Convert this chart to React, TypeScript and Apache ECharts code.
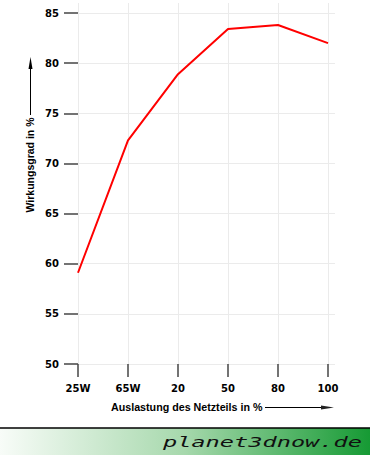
import React, { useEffect, useRef } from "react";
import * as echarts from "echarts";

const categories = ["25W", "65W", "20", "50", "80", "100"];
const efficiency = [59.1, 72.3, 78.9, 83.4, 83.8, 82.0];
const yTitle = "Wirkungsgrad in %";
const xTitle = "Auslastung des Netzteils in %";
const brand = "planet3dnow.de";

export default function App() {
  const ref = useRef<HTMLDivElement>(null);
  useEffect(() => {
    if (!ref.current) return;
    const chart = echarts.init(ref.current, null, { renderer: "svg" });
    const tickColor = "#444";
    const gridColor = "#ebebeb";
    const labelFont = {
      color: "#000",
      fontFamily: "DejaVu Sans",
      fontWeight: "bold" as const,
      fontSize: 10,
    };
    chart.setOption({
      animation: false,
      backgroundColor: "#fff",
      grid: [
        { left: 78, right: 42, top: 13, bottom: 91 },
        { left: 78, right: 35, top: 13, bottom: 91 },
        { left: 78, right: 42, top: 3, bottom: 91 },
      ],
      xAxis: [
        {
          gridIndex: 0,
          type: "category",
          data: categories,
          boundaryGap: false,
          axisLine: { show: false },
          axisTick: { show: true, length: 13, lineStyle: { color: tickColor, width: 1.5 } },
          axisLabel: { ...labelFont, margin: 19 },
          splitLine: { show: false },
        },
        {
          gridIndex: 1,
          type: "value",
          min: 0,
          max: 1,
          axisLine: { show: false },
          axisTick: { show: false },
          axisLabel: { show: false },
          splitLine: { show: false },
        },
        {
          gridIndex: 2,
          type: "category",
          data: categories,
          boundaryGap: false,
          axisLine: { show: false },
          axisTick: { show: false },
          axisLabel: { show: false },
          splitLine: { show: true, lineStyle: { color: gridColor, width: 1 } },
        },
      ],
      yAxis: [
        {
          gridIndex: 0,
          type: "value",
          min: 50,
          max: 85,
          interval: 5,
          axisLine: { show: false },
          axisTick: { show: true, length: 14, lineStyle: { color: tickColor, width: 1.5 } },
          axisLabel: { ...labelFont, margin: 19 },
          splitLine: { show: false },
        },
        {
          gridIndex: 1,
          type: "value",
          min: 50,
          max: 85,
          interval: 5,
          axisLine: { show: false },
          axisTick: { show: false },
          axisLabel: { show: false },
          splitLine: { show: true, lineStyle: { color: gridColor, width: 1 } },
        },
        {
          gridIndex: 2,
          type: "value",
          min: 0,
          max: 1,
          axisLine: { show: false },
          axisTick: { show: false },
          axisLabel: { show: false },
          splitLine: { show: false },
        },
      ],
      series: [
        {
          type: "line",
          xAxisIndex: 0,
          yAxisIndex: 0,
          data: efficiency,
          symbol: "none",
          z: 10,
          lineStyle: { color: "#ff0000", width: 2 },
        },
      ],
      graphic: [
        {
          type: "text",
          x: 30,
          y: 165,
          rotation: Math.PI / 2,
          style: {
            text: yTitle,
            fill: "#000",
            font: "bold 10.5px 'Liberation Sans'",
            align: "center",
            verticalAlign: "middle",
          },
        },
        {
          type: "line",
          shape: { x1: 30.5, y1: 115, x2: 30.5, y2: 66 },
          style: { stroke: "#000", lineWidth: 1 },
        },
        {
          type: "polygon",
          shape: { points: [[28.5, 69], [32.5, 69], [30.5, 57]] },
          style: { fill: "#000" },
        },
        {
          type: "text",
          x: 111,
          y: 407,
          style: {
            text: xTitle,
            fill: "#000",
            font: "bold 10.7px 'Liberation Sans'",
            align: "left",
            verticalAlign: "middle",
          },
        },
        {
          type: "line",
          shape: { x1: 265, y1: 407.5, x2: 324, y2: 407.5 },
          style: { stroke: "#000", lineWidth: 1 },
        },
        {
          type: "polygon",
          shape: { points: [[321, 405.5], [321, 409.5], [334, 407.5]] },
          style: { fill: "#222" },
        },
        {
          type: "rect",
          shape: { x: 0, y: 428, width: 370, height: 27 },
          style: {
            fill: new echarts.graphic.LinearGradient(0, 0, 1, 0, [
              { offset: 0, color: "#f8fcf8" },
              { offset: 0.5, color: "#a6d8ac" },
              { offset: 1, color: "#169a34" },
            ]),
          },
        },
        {
          type: "line",
          shape: { x1: 0, y1: 428, x2: 370, y2: 428 },
          style: { stroke: "#000", lineWidth: 1.5 },
        },
        {
          type: "text",
          x: 362,
          y: 442,
          scaleX: 1.63,
          style: {
            text: brand,
            fill: "#111",
            font: "italic 14.5px 'DejaVu Sans Mono'",
            align: "right",
            verticalAlign: "middle",
          },
        },
      ],
    });
    return () => chart.dispose();
  }, []);
  return (
    <div
      ref={ref}
      style={{ position: "fixed", left: 0, top: 0, width: 370, height: 455 }}
    />
  );
}
